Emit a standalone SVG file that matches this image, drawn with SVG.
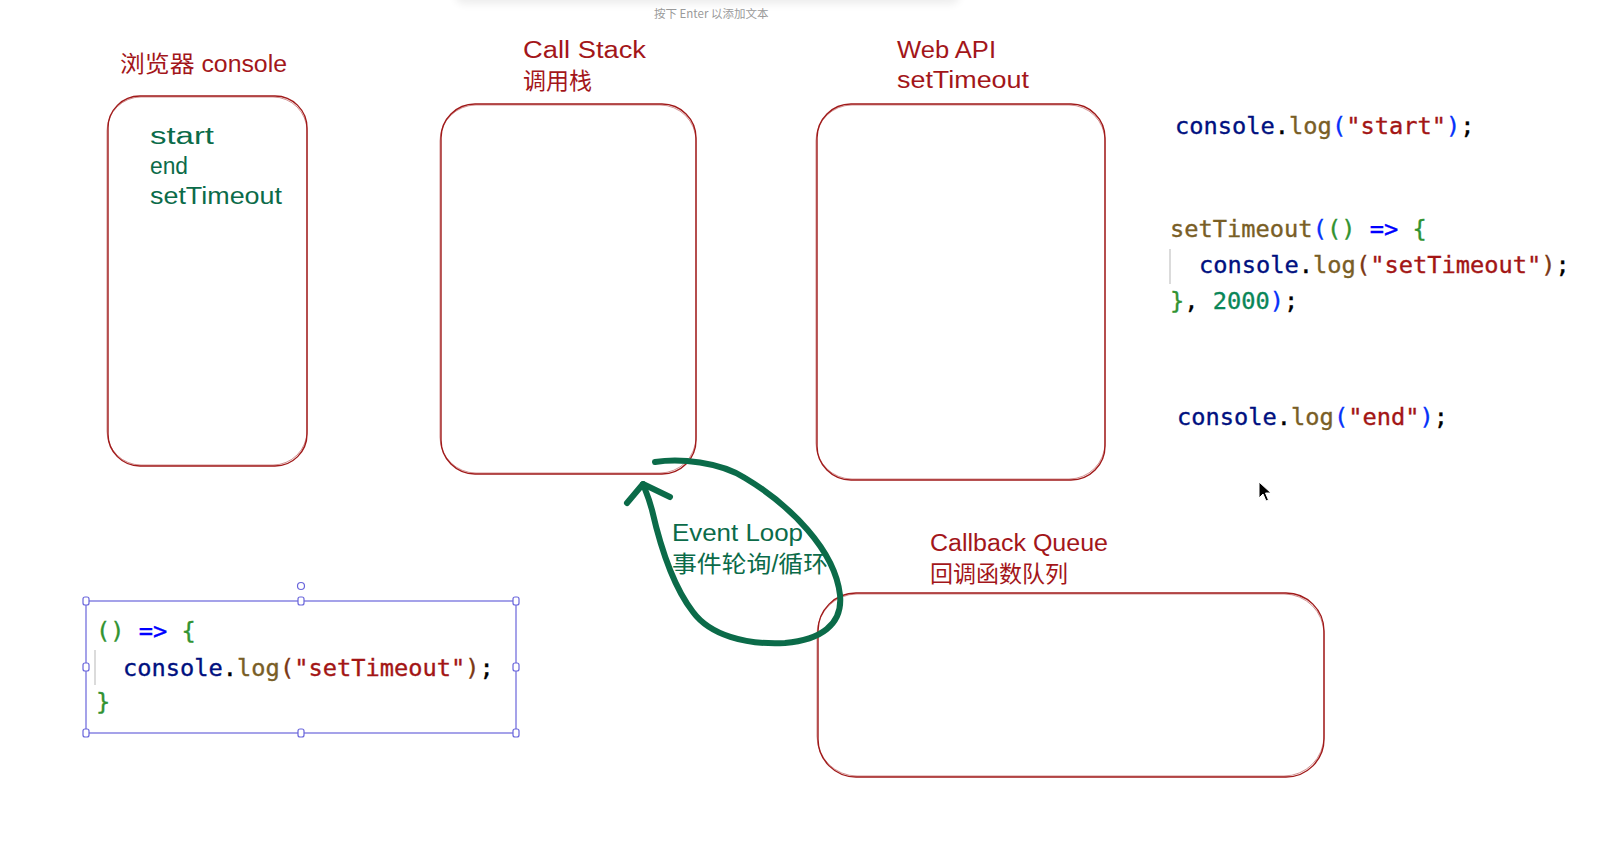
<svg xmlns="http://www.w3.org/2000/svg" width="1612" height="867" viewBox="0 0 1612 867">
<defs>
<style>
.box{fill:none;stroke:#a01a1a;stroke-width:1.4}
.box2{fill:none;stroke:#a01a1a;stroke-width:0.8;opacity:0.6}
.hand{font-family:"Liberation Sans","Noto Sans CJK SC",sans-serif;fill:#a3161a;font-size:23px}
.green{font-family:"Liberation Sans","Noto Sans CJK SC",sans-serif;fill:#0b6b49;font-size:23px}
.code{font-family:"DejaVu Sans Mono","Liberation Mono",monospace;font-size:23.7px;fill:#000;stroke:#000;stroke-width:0.35}
.v{fill:#001080;stroke:#001080}.f{fill:#795e26;stroke:#795e26}.b1{fill:#0431fa;stroke:#0431fa}.b2{fill:#319331;stroke:#319331}.b3{fill:#7b3814;stroke:#7b3814}.s{fill:#a31515;stroke:#a31515}.k{fill:#0000ff;stroke:#0000ff}.n{fill:#098658;stroke:#098658}
.sel{fill:none;stroke:#6965db;stroke-width:1.2}
.hd{fill:#fff;stroke:#6965db;stroke-width:1.2}
.guide{stroke:#cfcfcf;stroke-width:1.5}
</style>
<filter id="blur" x="-10%" y="-100%" width="120%" height="300%"><feGaussianBlur stdDeviation="4"/></filter>
</defs>
<rect width="1612" height="867" fill="#fff"/>
<rect x="455" y="-14" width="505" height="18" rx="9" fill="#000" opacity="0.07" filter="url(#blur)"/>
<text x="654" y="18" font-family="'Noto Sans CJK SC','Noto Sans',sans-serif" font-size="11.5" fill="#9a9a9a">按下 Enter 以添加文本</text>

<g id="console">
<rect class="box" x="108" y="96" width="199" height="370" rx="32"/>
<rect class="box2" x="107" y="97" width="200" height="368" rx="34"/>
<text class="hand" x="120" y="72" textLength="167" lengthAdjust="spacingAndGlyphs">浏览器 console</text>
<text class="green" x="150" y="144" textLength="64" lengthAdjust="spacingAndGlyphs">start</text>
<text class="green" x="150" y="174" textLength="38" lengthAdjust="spacingAndGlyphs">end</text>
<text class="green" x="150" y="204" textLength="132" lengthAdjust="spacingAndGlyphs">setTimeout</text>
</g>

<g id="callstack">
<rect class="box" x="441" y="104" width="255" height="370" rx="34"/>
<rect class="box2" x="440" y="105" width="256" height="368" rx="36"/>
<text class="hand" x="523" y="58" textLength="123" lengthAdjust="spacingAndGlyphs">Call Stack</text>
<text class="hand" x="523" y="89" font-size="24">调用栈</text>
</g>

<g id="webapi">
<rect class="box" x="817" y="104" width="288" height="376" rx="34"/>
<rect class="box2" x="816" y="105" width="289" height="374" rx="36"/>
<text class="hand" x="897" y="58" textLength="99" lengthAdjust="spacingAndGlyphs">Web API</text>
<text class="hand" x="897" y="88" textLength="132" lengthAdjust="spacingAndGlyphs">setTimeout</text>
</g>

<g id="callbackqueue">
<rect class="box" x="818" y="593" width="506" height="184" rx="38"/>
<rect class="box2" x="817" y="594" width="507" height="182" rx="40"/>
<text class="hand" x="930" y="551" textLength="178" lengthAdjust="spacingAndGlyphs">Callback Queue</text>
<text class="hand" x="930" y="582" font-size="24">回调函数队列</text>
</g>

<g id="code-main">
<text class="code" x="1175" y="134"><tspan class="v">console</tspan>.<tspan class="f">log</tspan><tspan class="b1">(</tspan><tspan class="s">"start"</tspan><tspan class="b1">)</tspan>;</text>
<text class="code" x="1170" y="237"><tspan class="f">setTimeout</tspan><tspan class="b1">(</tspan><tspan class="b2">()</tspan> <tspan class="k">=&gt;</tspan> <tspan class="b2">{</tspan></text>
<line class="guide" x1="1170" y1="249" x2="1170" y2="284"/>
<text class="code" x="1199" y="273"><tspan class="v">console</tspan>.<tspan class="f">log</tspan><tspan class="b3">(</tspan><tspan class="s">"setTimeout"</tspan><tspan class="b3">)</tspan>;</text>
<text class="code" x="1170" y="309"><tspan class="b2">}</tspan>, <tspan class="n">2000</tspan><tspan class="b1">)</tspan>;</text>
<text class="code" x="1177" y="425"><tspan class="v">console</tspan>.<tspan class="f">log</tspan><tspan class="b1">(</tspan><tspan class="s">"end"</tspan><tspan class="b1">)</tspan>;</text>
</g>

<g id="callback-fn">
<rect class="sel" x="86" y="601" width="430" height="132"/>
<text class="code" x="96" y="639"><tspan class="b2">()</tspan> <tspan class="k">=&gt;</tspan> <tspan class="b2">{</tspan></text>
<line class="guide" x1="95" y1="650" x2="95" y2="685"/>
<text class="code" x="123" y="676"><tspan class="v">console</tspan>.<tspan class="f">log</tspan><tspan class="b3">(</tspan><tspan class="s">"setTimeout"</tspan><tspan class="b3">)</tspan>;</text>
<text class="code" x="96" y="710"><tspan class="b2">}</tspan></text>
<circle class="hd" cx="301" cy="586" r="3.5"/>
<rect class="hd" x="83" y="597" width="6" height="8" rx="2"/>
<rect class="hd" x="298" y="597" width="6" height="8" rx="2"/>
<rect class="hd" x="513" y="597" width="6" height="8" rx="2"/>
<rect class="hd" x="83" y="663" width="6" height="8" rx="2"/>
<rect class="hd" x="513" y="663" width="6" height="8" rx="2"/>
<rect class="hd" x="83" y="729" width="6" height="8" rx="2"/>
<rect class="hd" x="298" y="729" width="6" height="8" rx="2"/>
<rect class="hd" x="513" y="729" width="6" height="8" rx="2"/>
</g>

<g id="connectors">
<path d="M 655 462 C 680 458, 720 462, 745 478 C 790 505, 835 550, 840 595 C 843 625, 820 640, 785 643 C 745 645, 710 635, 693 612 C 672 585, 660 545, 652 510 C 648 495, 645 490, 643 484" fill="none" stroke="#0b6b49" stroke-width="6" stroke-linecap="round" stroke-linejoin="round"/>
<path d="M 627 503 L 643 484 L 670 497" fill="none" stroke="#0b6b49" stroke-width="6" stroke-linecap="round" stroke-linejoin="round"/>
</g>

<g id="eventloop">
<text class="green" x="672" y="541" textLength="131" lengthAdjust="spacingAndGlyphs">Event Loop</text>
<text class="green" x="672" y="572" font-size="22" textLength="156" lengthAdjust="spacingAndGlyphs">事件轮询/循环</text>
</g>

<path d="M1259 482 L1259 498 L1263 494 L1266 501 L1268.5 500 L1265.5 493 L1271 493 Z" fill="#000" stroke="#fff" stroke-width="1"/>
</svg>
